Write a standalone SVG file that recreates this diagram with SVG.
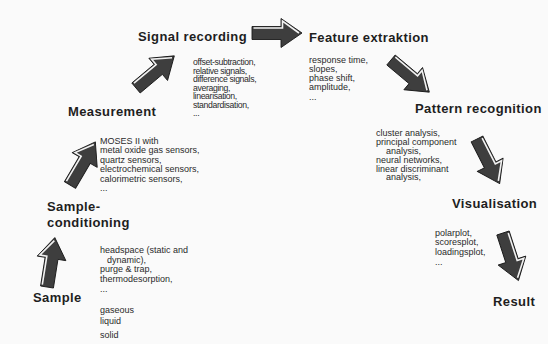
<svg xmlns="http://www.w3.org/2000/svg" width="548" height="344" viewBox="0 0 548 344">
<style>
.t{font-family:"Liberation Sans",Arial,sans-serif;font-weight:bold;font-size:13px;fill:#1e1e1e;letter-spacing:0.4px}
.s{font-family:"Liberation Sans",Arial,sans-serif;font-size:9px;fill:#2a2a2a}
.s8{font-family:"Liberation Sans",Arial,sans-serif;font-size:8.7px;fill:#2a2a2a;letter-spacing:-0.35px}
.arr{fill:#3e3e3e;stroke:#1a1a1a;stroke-width:0.9;stroke-linejoin:round}
.hl{fill:none;stroke:#f2f2f2;stroke-width:1.6}
</style>
<defs>
<g id="arrow">
<path class="arr" d="M0,-6.5 H29 V-14.5 L50,0 L29,14.5 V6.5 H0 Z"/>
<path class="hl" d="M1.5,-5 H30.5 V-12 L47,0"/>
</g>
</defs>
<rect width="548" height="344" fill="#fafafa"/>
<g id="connectors">
<use href="#arrow" transform="translate(47,287) rotate(-81)"/>
<use href="#arrow" transform="translate(70,185) rotate(-59.5)"/>
<use href="#arrow" transform="translate(136,88) rotate(-40)"/>
<use href="#arrow" transform="translate(252,33)"/>
<use href="#arrow" transform="translate(391,60) rotate(40)"/>
<use href="#arrow" transform="translate(477,139) rotate(63)"/>
<use href="#arrow" transform="translate(503,233) rotate(72)"/>
</g>
<g id="sample">
<text class="t" x="33" y="302">Sample</text>
<text class="s" x="100" y="253">headspace (static and</text>
<text class="s" x="107" y="263">dynamic),</text>
<text class="s" x="100" y="272">purge &amp; trap,</text>
<text class="s" x="100" y="282">thermodesorption,</text>
<text class="s" x="100" y="292">...</text>
<text class="s" x="100" y="313">gaseous</text>
<text class="s" x="100" y="324">liquid</text>
<text class="s" x="100" y="338">solid</text>
</g>
<g id="sample-conditioning">
<text class="t" x="47" y="211">Sample-</text>
<text class="t" x="47" y="227">conditioning</text>
<text class="s" x="100" y="143.5">MOSES II with</text>
<text class="s" x="100" y="153">metal oxide gas sensors,</text>
<text class="s" x="100" y="162.5">quartz sensors,</text>
<text class="s" x="100" y="172">electrochemical sensors,</text>
<text class="s" x="100" y="181.5">calorimetric sensors,</text>
<text class="s" x="100" y="191">...</text>
</g>
<g id="measurement">
<text class="t" x="68" y="116">Measurement</text>
</g>
<g id="signal-recording">
<text class="t" x="138" y="41">Signal recording</text>
<text class="s8" x="193" y="65">offset-subtraction,</text>
<text class="s8" x="193" y="73.5">relative signals,</text>
<text class="s8" x="193" y="82">difference signals,</text>
<text class="s8" x="193" y="90.5">averaging,</text>
<text class="s8" x="193" y="99">linearisation,</text>
<text class="s8" x="193" y="107.5">standardisation,</text>
<text class="s8" x="193" y="116">...</text>
</g>
<g id="feature-extraktion">
<text class="t" x="309" y="42">Feature extraktion</text>
<text class="s" x="309" y="63">response time,</text>
<text class="s" x="309" y="72">slopes,</text>
<text class="s" x="309" y="81">phase shift,</text>
<text class="s" x="309" y="90">amplitude,</text>
<text class="s" x="309" y="100">...</text>
</g>
<g id="pattern-recognition">
<text class="t" x="415" y="113">Pattern recognition</text>
<text class="s" x="376" y="136">cluster analysis,</text>
<text class="s" x="376" y="145">principal component</text>
<text class="s" x="386" y="154">analysis,</text>
<text class="s" x="376" y="163">neural networks,</text>
<text class="s" x="376" y="171.5">linear discriminant</text>
<text class="s" x="386" y="180">analysis,</text>
</g>
<g id="visualisation">
<text class="t" x="452" y="208">Visualisation</text>
<text class="s" x="435" y="236">polarplot,</text>
<text class="s" x="435" y="245">scoresplot,</text>
<text class="s" x="435" y="254.5">loadingsplot,</text>
<text class="s" x="435" y="265">...</text>
</g>
<g id="result">
<text class="t" x="493" y="306">Result</text>
</g>
</svg>
